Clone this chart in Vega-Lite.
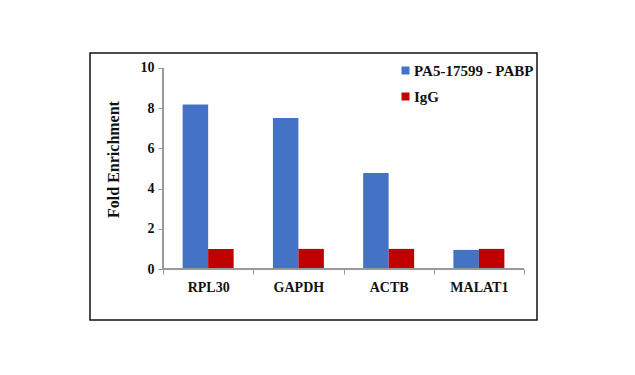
{
  "$schema": "https://vega.github.io/schema/vega-lite/v6.json",
  "width": 447,
  "height": 267,
  "autosize": "none",
  "padding": {"left": 90, "top": 53, "right": 98, "bottom": 55},
  "background": "white",
  "config": {
    "view": {"stroke": "#111", "strokeWidth": 1.5},
    "font": "Liberation Serif"
  },
  "data": {
    "values": [
      {"gene": "RPL30", "series": "PA5-17599 - PABP", "value": 8.19},
      {"gene": "RPL30", "series": "IgG", "value": 1.0},
      {"gene": "GAPDH", "series": "PA5-17599 - PABP", "value": 7.51},
      {"gene": "GAPDH", "series": "IgG", "value": 1.0},
      {"gene": "ACTB", "series": "PA5-17599 - PABP", "value": 4.78},
      {"gene": "ACTB", "series": "IgG", "value": 1.0},
      {"gene": "MALAT1", "series": "PA5-17599 - PABP", "value": 0.95},
      {"gene": "MALAT1", "series": "IgG", "value": 1.0}
    ]
  },
  "encoding": {
    "x": {
      "field": "gene",
      "type": "nominal",
      "sort": ["RPL30", "GAPDH", "ACTB", "MALAT1"],
      "scale": {"paddingInner": 0, "paddingOuter": 0.4765, "align": 0.849},
      "axis": {
        "title": null,
        "domain": false,
        "labelAngle": 0,
        "labelFont": "Liberation Serif",
        "labelFontWeight": "bold",
        "labelFontSize": 14,
        "labelColor": "#111",
        "labelPadding": 6,
        "tickBand": "extent",
        "tickColor": "#999",
        "tickSize": 5,
        "offset": -51
      }
    }
  },
  "layer": [
    {
      "mark": {"type": "bar"},
      "encoding": {
        "xOffset": {
          "field": "series",
          "type": "nominal",
          "sort": ["PA5-17599 - PABP", "IgG"],
          "scale": {"paddingInner": 0, "paddingOuter": 0.77}
        },
        "y": {
          "field": "value",
          "type": "quantitative",
          "scale": {"domain": [-2.537, 10.746], "nice": false, "zero": false},
          "axis": {
            "title": "Fold Enrichment",
            "titleFont": "Liberation Serif",
            "titleFontWeight": "bold",
            "titleFontSize": 16,
            "titleColor": "#111",
            "titleY": 106,
            "titlePadding": 19,
            "values": [0, 2, 4, 6, 8, 10],
            "domain": false,
            "grid": false,
            "offset": -73,
            "labelFont": "Liberation Serif",
            "labelFontWeight": "bold",
            "labelFontSize": 14,
            "labelColor": "#111",
            "labelPadding": 4,
            "tickColor": "#999",
            "tickSize": 5
          }
        },
        "y2": {"datum": 0},
        "color": {
          "field": "series",
          "type": "nominal",
          "scale": {"domain": ["PA5-17599 - PABP", "IgG"], "range": ["#4472C4", "#C00000"]},
          "legend": {
            "title": null,
            "orient": "none",
            "legendX": 308,
            "legendY": 10,
            "symbolType": "square",
            "symbolSize": 64,
            "symbolStrokeWidth": 0,
            "labelFont": "Liberation Serif",
            "labelFontWeight": "bold",
            "labelFontSize": 15,
            "labelColor": "#111",
            "labelOffset": 1,
            "rowPadding": 10
          }
        }
      }
    },
    {
      "mark": {"type": "rule", "color": "#999", "strokeWidth": 1},
      "encoding": {
        "x": {"datum": "RPL30", "bandPosition": 0},
        "x2": {"datum": "MALAT1", "bandPosition": 1},
        "y": {"datum": 0}
      }
    },
    {
      "mark": {"type": "rule", "color": "#999", "strokeWidth": 1},
      "encoding": {
        "x": {"datum": "RPL30", "bandPosition": 0},
        "y": {"datum": 0},
        "y2": {"datum": 10}
      }
    }
  ]
}
